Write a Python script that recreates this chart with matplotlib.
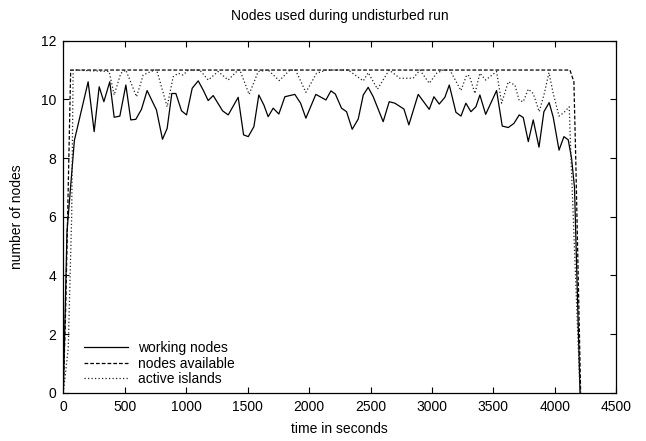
import numpy as np
import matplotlib.pyplot as plt
from matplotlib.ticker import MultipleLocator

plt.rcParams['font.family'] = ['Liberation Sans', 'DejaVu Sans']

# working nodes
work_t = [0, 30, 90, 202, 251, 292, 330, 378, 414, 460, 509, 549, 590, 636, 682,
          758, 807, 845, 883, 916, 962, 1003, 1049, 1098, 1138, 1179, 1220, 1296,
          1342, 1423, 1467, 1505, 1551, 1591, 1632, 1667, 1708, 1754, 1803, 1884,
          1931, 1974, 2055, 2137, 2178, 2214, 2264, 2305, 2351, 2400, 2441, 2481,
          2522, 2603, 2652, 2698, 2772, 2812, 2888, 2978, 3016, 3059, 3105, 3141,
          3195, 3236, 3276, 3317, 3358, 3390, 3437, 3526, 3572, 3621, 3667, 3710,
          3743, 3784, 3824, 3871, 3911, 3954, 3987, 4034, 4074, 4109, 4136, 4160,
          4205]
work_n = [0, 5.5, 8.6, 10.6, 8.9, 10.43, 9.92, 10.6, 9.39, 9.43, 10.49, 9.3, 9.32,
          9.66, 10.3, 9.64, 8.64, 9.01, 10.2, 10.2, 9.61, 9.47, 10.38, 10.63, 10.32,
          9.96, 10.13, 9.61, 9.47, 10.07, 8.79, 8.73, 9.07, 10.15, 9.81, 9.41, 9.70,
          9.5, 10.09, 10.17, 9.87, 9.36, 10.17, 9.98, 10.29, 10.18, 9.7, 9.58, 8.98,
          9.33, 10.15, 10.41, 10.09, 9.24, 9.92, 9.87, 9.67, 9.13, 10.17, 9.66,
          10.09, 9.84, 10.07, 10.49, 9.56, 9.43, 9.87, 9.58, 9.75, 10.15, 9.49,
          10.30, 9.09, 9.04, 9.18, 9.47, 9.38, 8.56, 9.3, 8.37, 9.58, 9.89, 9.39,
          8.27, 8.73, 8.62, 7.99, 7.0, 0]

# nodes available
avail_t = [0, 20, 45, 60, 4123, 4155, 4170, 4210]
avail_n = [0, 3, 8, 11, 11, 10.6, 8, 0]

# active islands
isl_t = [0, 40, 68, 80, 373, 414, 468, 509, 596, 650, 690, 745, 760, 845, 894,
         935, 975, 1016, 1111, 1179, 1260, 1342, 1423, 1437, 1512, 1586, 1667,
         1757, 1844, 1890, 1974, 2061, 2142, 2318, 2441, 2481, 2557, 2652, 2739,
         2847, 2902, 2978, 3038, 3092, 3146, 3236, 3282, 3305, 3350, 3390, 3437,
         3526, 3567, 3621, 3675, 3710, 3743, 3784, 3824, 3873, 3914, 3952, 3987,
         4034, 4074, 4117, 4131, 4205]
isl_n = [0, 1.5, 6, 11, 10.95, 10.15, 10.89, 11, 10.09, 10.83, 10.91, 11, 11, 9.75,
         10.77, 10.89, 10.83, 11, 11, 10.66, 10.95, 10.66, 11, 11, 10.17, 10.95, 11,
         10.64, 11, 11, 10.24, 10.89, 11, 11, 10.63, 10.91, 10.35, 11, 10.72, 10.72,
         11, 10.55, 10.89, 11, 11, 10.3, 10.83, 10.8, 10.2, 10.89, 10.66, 10.95,
         9.87, 10.6, 10.49, 9.96, 9.92, 10.35, 10.2, 9.58, 10.2, 10.91, 10.2, 9.43,
         9.55, 9.75, 8.04, 0]

fig = plt.figure(figsize=(6.46, 4.41), dpi=100)
ax = fig.add_axes([0.098, 0.1095, 0.856, 0.7982])

ax.plot(work_t, work_n, color='black', lw=0.9, label='working nodes')
ax.plot(avail_t, avail_n, color='black', lw=0.9, dashes=(3, 1.6), label='nodes available')
ax.plot(isl_t, isl_n, color='#222222', lw=0.9, dashes=(1, 1.8), label='active islands')

ax.set_xlim([0, 4500])
ax.set_ylim([0, 12])
ax.xaxis.set_major_locator(MultipleLocator(500))
ax.yaxis.set_major_locator(MultipleLocator(2))
ax.tick_params(direction='in', top=True, right=True, length=4, labelsize=10, pad=5)
for s in ax.spines.values():
    s.set_linewidth(0.9)

ax.set_title("Nodes used during undisturbed run", size=10, pad=15)
ax.set_xlabel("time in seconds", size=10, labelpad=6)
ax.set_ylabel("number of nodes", size=10, labelpad=12)

ax.legend(loc='lower left', bbox_to_anchor=(0.014, -0.017), frameon=False, fontsize=10,
          handlelength=3.2, handletextpad=0.7, labelspacing=0.12)

fig.savefig('out.png', dpi=100)
